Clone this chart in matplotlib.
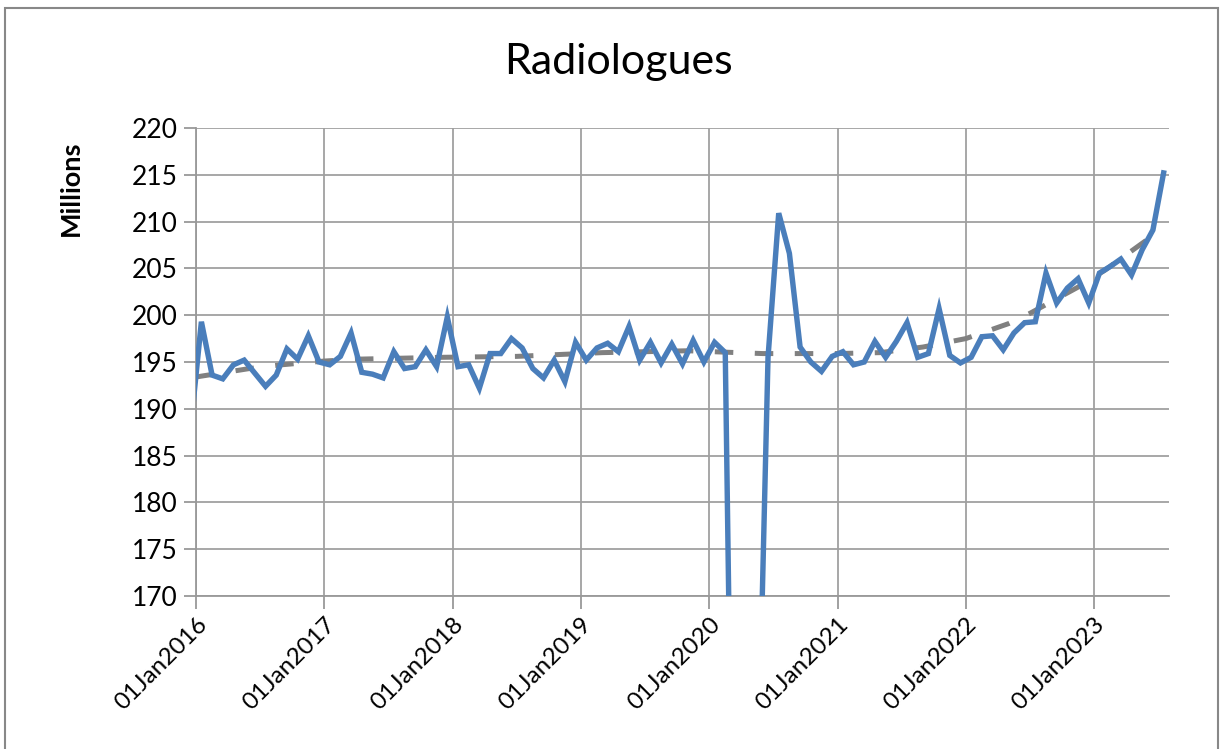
import matplotlib
matplotlib.use("Agg")
import matplotlib.pyplot as plt
from matplotlib.patches import Rectangle

# monthly values (millions), Jan2016 .. Jul2023; Dec2015 only feeds the clipped first segment
prev_value = 188.0
values = [
    199.3, 193.6, 193.2, 194.7, 195.2, 193.8, 192.4, 193.6, 196.4, 195.3, 197.8, 195.0,  # 2016
    194.7, 195.6, 198.1, 193.9, 193.7, 193.3, 196.1, 194.3, 194.5, 196.3, 194.5, 199.8,  # 2017
    194.5, 194.7, 192.2, 195.9, 195.9, 197.5, 196.5, 194.3, 193.3, 195.2, 192.9, 197.1,  # 2018
    195.2, 196.5, 197.0, 196.1, 198.8, 195.2, 197.1, 194.9, 196.9, 194.8, 197.3, 195.0,  # 2019
    197.1, 196.0, 115.0, 120.0, 148.0, 195.5, 210.9, 206.6, 196.6, 195.0, 194.0, 195.6,  # 2020
    196.1, 194.7, 195.0, 197.2, 195.5, 197.2, 199.2, 195.5, 195.9, 200.7, 195.7, 194.9,  # 2021
    195.5, 197.7, 197.8, 196.3, 198.1, 199.2, 199.3, 204.5, 201.3, 202.9, 203.9, 201.3,  # 2022
    204.5, 205.2, 206.0, 204.3, 207.0, 209.1, 215.2,                                     # 2023
]

# trend line (month offset from Jan2016, value)
trend_month = [0, 5, 8, 12, 15, 23, 30, 38, 46, 53, 60, 64, 68, 72, 76, 78, 82.5, 85, 89, 90.5]
trend_value = [193.4, 194.3, 194.7, 195.1, 195.3, 195.5, 195.6, 196.0, 196.2, 195.9,
               195.9, 196.0, 196.6, 197.5, 199.1, 200.2, 203.0, 204.8, 208.1, 209.2]

tick_labels = ["01Jan2016", "01Jan2017", "01Jan2018", "01Jan2019",
               "01Jan2020", "01Jan2021", "01Jan2022", "01Jan2023"]

plt.rcParams["font.family"] = ["Lato", "DejaVu Sans"]

fig = plt.figure(figsize=(12.23, 7.49), dpi=100)
ax = fig.add_axes([0.1603, 0.2043, 0.7955, 0.6248])

# points sit in the middle of each month slot
x = [i + 0.5 for i in range(-1, len(values))]
y = [prev_value] + values

ax.plot(trend_month, trend_value, color="#808080", lw=3.6,
        dashes=(3.7, 4.3), zorder=3)
ax.plot(x, y, color="#4A7EBB", lw=3.9, solid_joinstyle="miter", zorder=4)

ax.set_xlim(0, len(values))
ax.set_ylim(170, 220)
ax.set_yticks(range(170, 221, 5))
ax.set_xticks(range(0, len(values), 12))
ax.set_xticklabels(tick_labels, rotation=45, ha="right", va="top",
                   rotation_mode="anchor", fontsize=17.5)
ax.tick_params(axis="y", labelsize=19, length=9, width=1.3, color="#999999", pad=4)
ax.tick_params(axis="x", length=9, width=1.3, color="#999999", pad=4)

ax.grid(True, color="#A0A0A0", lw=1.3)
ax.set_axisbelow(True)
for side in ["top", "right"]:
    ax.spines[side].set_visible(False)
for side in ["left", "bottom"]:
    ax.spines[side].set_color("#999999")
    ax.spines[side].set_linewidth(1.3)

fig.text(0.506, 0.917, "Radiologues", ha="center", va="center", fontsize=31)
fig.text(0.058, 0.749, "Millions", ha="center", va="center", rotation=90,
         fontsize=19.5, fontweight="bold")

fig.patches.append(Rectangle((0.004, -0.01), 0.992, 0.999, transform=fig.transFigure,
                             fill=False, edgecolor="#888888", lw=1.5))

fig.savefig("out.png", dpi=100)
